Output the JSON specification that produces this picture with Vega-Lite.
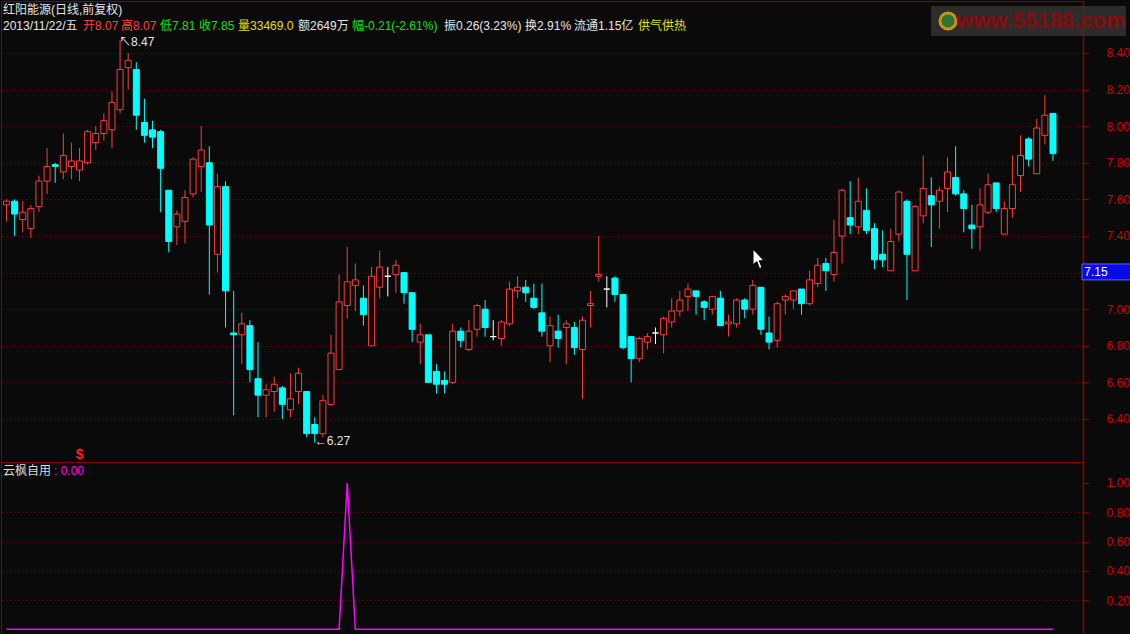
{
  "$schema": "https://vega.github.io/schema/vega-lite/v6.json",
  "background": "#0a0a0a",
  "padding": 0,
  "config": {
    "view": {"stroke": "#8c0000", "strokeWidth": 1},
    "scale": {"continuousPadding": 0},
    "text": {"font": "Liberation Sans, Noto Sans CJK SC", "fontSize": 12}
  },
  "datasets": {
    "k": [
      {"i":1,"o":7.57,"h":7.60,"l":7.48,"c":7.59,"v":0},
      {"i":2,"o":7.59,"h":7.60,"l":7.40,"c":7.52,"v":0},
      {"i":3,"o":7.49,"h":7.59,"l":7.42,"c":7.53,"v":0},
      {"i":4,"o":7.44,"h":7.57,"l":7.39,"c":7.55,"v":0},
      {"i":5,"o":7.56,"h":7.73,"l":7.53,"c":7.70,"v":0},
      {"i":6,"o":7.70,"h":7.88,"l":7.63,"c":7.78,"v":0},
      {"i":7,"o":7.79,"h":7.80,"l":7.69,"c":7.78,"v":0},
      {"i":8,"o":7.75,"h":7.96,"l":7.71,"c":7.84,"v":0},
      {"i":9,"o":7.78,"h":7.91,"l":7.71,"c":7.81,"v":0},
      {"i":10,"o":7.76,"h":7.88,"l":7.70,"c":7.81,"v":0},
      {"i":11,"o":7.80,"h":7.98,"l":7.79,"c":7.97,"v":0},
      {"i":12,"o":7.91,"h":8.00,"l":7.87,"c":7.96,"v":0},
      {"i":13,"o":7.96,"h":8.07,"l":7.92,"c":8.03,"v":0},
      {"i":14,"o":7.98,"h":8.19,"l":7.88,"c":8.13,"v":0},
      {"i":15,"o":8.09,"h":8.47,"l":8.07,"c":8.31,"v":0},
      {"i":16,"o":8.32,"h":8.40,"l":8.20,"c":8.36,"v":0},
      {"i":17,"o":8.31,"h":8.35,"l":7.98,"c":8.06,"v":0},
      {"i":18,"o":8.02,"h":8.15,"l":7.91,"c":7.95,"v":0},
      {"i":19,"o":7.98,"h":8.03,"l":7.88,"c":7.94,"v":0},
      {"i":20,"o":7.97,"h":7.98,"l":7.53,"c":7.77,"v":0},
      {"i":21,"o":7.65,"h":7.65,"l":7.31,"c":7.37,"v":0},
      {"i":22,"o":7.45,"h":7.54,"l":7.35,"c":7.52,"v":0},
      {"i":23,"o":7.48,"h":7.65,"l":7.36,"c":7.61,"v":0},
      {"i":24,"o":7.63,"h":7.83,"l":7.61,"c":7.82,"v":0},
      {"i":25,"o":7.78,"h":8.00,"l":7.64,"c":7.87,"v":0},
      {"i":26,"o":7.80,"h":7.89,"l":7.08,"c":7.46,"v":0},
      {"i":27,"o":7.30,"h":7.74,"l":7.20,"c":7.67,"v":0},
      {"i":28,"o":7.67,"h":7.70,"l":6.90,"c":7.10,"v":0},
      {"i":29,"o":6.87,"h":7.10,"l":6.42,"c":6.86,"v":0},
      {"i":30,"o":6.86,"h":6.98,"l":6.70,"c":6.92,"v":0},
      {"i":31,"o":6.91,"h":6.94,"l":6.60,"c":6.67,"v":0},
      {"i":32,"o":6.62,"h":6.82,"l":6.41,"c":6.53,"v":0},
      {"i":33,"o":6.53,"h":6.59,"l":6.41,"c":6.56,"v":0},
      {"i":34,"o":6.55,"h":6.63,"l":6.44,"c":6.59,"v":0},
      {"i":35,"o":6.57,"h":6.58,"l":6.40,"c":6.48,"v":0},
      {"i":36,"o":6.45,"h":6.65,"l":6.41,"c":6.51,"v":0},
      {"i":37,"o":6.55,"h":6.68,"l":6.48,"c":6.65,"v":0},
      {"i":38,"o":6.55,"h":6.55,"l":6.30,"c":6.32,"v":0},
      {"i":39,"o":6.37,"h":6.41,"l":6.27,"c":6.32,"v":0},
      {"i":40,"o":6.32,"h":6.53,"l":6.30,"c":6.50,"v":0},
      {"i":41,"o":6.48,"h":6.86,"l":6.47,"c":6.76,"v":0},
      {"i":42,"o":6.67,"h":7.19,"l":6.67,"c":7.04,"v":0},
      {"i":43,"o":7.02,"h":7.34,"l":6.95,"c":7.15,"v":1},
      {"i":44,"o":7.13,"h":7.25,"l":6.99,"c":7.16,"v":0},
      {"i":45,"o":7.06,"h":7.13,"l":6.91,"c":6.97,"v":0},
      {"i":46,"o":6.80,"h":7.23,"l":6.80,"c":7.18,"v":0},
      {"i":47,"o":7.12,"h":7.32,"l":7.06,"c":7.23,"v":0},
      {"i":48,"o":7.18,"h":7.23,"l":7.07,"c":7.18,"v":0},
      {"i":49,"o":7.19,"h":7.27,"l":7.09,"c":7.24,"v":0},
      {"i":50,"o":7.20,"h":7.20,"l":7.03,"c":7.09,"v":0},
      {"i":51,"o":7.09,"h":7.09,"l":6.82,"c":6.89,"v":0},
      {"i":52,"o":6.82,"h":6.92,"l":6.70,"c":6.86,"v":0},
      {"i":53,"o":6.86,"h":6.86,"l":6.60,"c":6.60,"v":0},
      {"i":54,"o":6.66,"h":6.70,"l":6.54,"c":6.59,"v":0},
      {"i":55,"o":6.61,"h":6.66,"l":6.54,"c":6.59,"v":0},
      {"i":56,"o":6.60,"h":6.92,"l":6.59,"c":6.88,"v":0},
      {"i":57,"o":6.88,"h":6.90,"l":6.79,"c":6.83,"v":0},
      {"i":58,"o":6.78,"h":6.94,"l":6.77,"c":6.88,"v":0},
      {"i":59,"o":6.89,"h":7.03,"l":6.85,"c":7.02,"v":0},
      {"i":60,"o":7.00,"h":7.05,"l":6.85,"c":6.90,"v":0},
      {"i":61,"o":6.85,"h":6.94,"l":6.83,"c":6.85,"v":0},
      {"i":62,"o":6.84,"h":6.94,"l":6.80,"c":6.93,"v":0},
      {"i":63,"o":6.92,"h":7.15,"l":6.91,"c":7.11,"v":0},
      {"i":64,"o":7.10,"h":7.18,"l":7.06,"c":7.12,"v":0},
      {"i":65,"o":7.12,"h":7.16,"l":7.04,"c":7.09,"v":0},
      {"i":66,"o":7.06,"h":7.14,"l":7.00,"c":7.01,"v":0},
      {"i":67,"o":6.98,"h":7.14,"l":6.85,"c":6.88,"v":0},
      {"i":68,"o":6.80,"h":6.96,"l":6.71,"c":6.91,"v":0},
      {"i":69,"o":6.88,"h":6.97,"l":6.79,"c":6.84,"v":0},
      {"i":70,"o":6.90,"h":6.94,"l":6.70,"c":6.92,"v":0},
      {"i":71,"o":6.90,"h":6.93,"l":6.75,"c":6.79,"v":0},
      {"i":72,"o":6.78,"h":6.96,"l":6.51,"c":6.94,"v":0},
      {"i":73,"o":7.02,"h":7.10,"l":6.90,"c":7.03,"v":0},
      {"i":74,"o":7.18,"h":7.40,"l":7.15,"c":7.19,"v":0},
      {"i":75,"o":7.11,"h":7.18,"l":7.01,"c":7.11,"v":0},
      {"i":76,"o":7.17,"h":7.18,"l":7.04,"c":7.08,"v":0},
      {"i":77,"o":7.08,"h":7.08,"l":6.78,"c":6.79,"v":0},
      {"i":78,"o":6.85,"h":6.85,"l":6.60,"c":6.73,"v":0},
      {"i":79,"o":6.73,"h":6.85,"l":6.71,"c":6.84,"v":0},
      {"i":80,"o":6.82,"h":6.87,"l":6.78,"c":6.85,"v":0},
      {"i":81,"o":6.87,"h":6.90,"l":6.81,"c":6.87,"v":0},
      {"i":82,"o":6.86,"h":6.96,"l":6.76,"c":6.95,"v":0},
      {"i":83,"o":6.93,"h":7.06,"l":6.90,"c":6.99,"v":0},
      {"i":84,"o":6.99,"h":7.10,"l":6.96,"c":7.05,"v":0},
      {"i":85,"o":7.07,"h":7.14,"l":6.99,"c":7.11,"v":0},
      {"i":86,"o":7.10,"h":7.10,"l":6.97,"c":7.07,"v":0},
      {"i":87,"o":7.04,"h":7.05,"l":6.94,"c":7.01,"v":0},
      {"i":88,"o":7.00,"h":7.07,"l":6.97,"c":7.07,"v":0},
      {"i":89,"o":7.06,"h":7.10,"l":6.91,"c":6.91,"v":0},
      {"i":90,"o":6.92,"h":6.97,"l":6.85,"c":6.93,"v":0},
      {"i":91,"o":6.92,"h":7.06,"l":6.90,"c":7.05,"v":0},
      {"i":92,"o":7.05,"h":7.06,"l":6.95,"c":7.00,"v":0},
      {"i":93,"o":7.00,"h":7.16,"l":6.97,"c":7.13,"v":0},
      {"i":94,"o":7.12,"h":7.12,"l":6.86,"c":6.89,"v":0},
      {"i":95,"o":6.87,"h":6.96,"l":6.78,"c":6.82,"v":0},
      {"i":96,"o":6.83,"h":7.04,"l":6.79,"c":7.03,"v":0},
      {"i":97,"o":7.05,"h":7.08,"l":6.97,"c":7.07,"v":0},
      {"i":98,"o":7.05,"h":7.10,"l":7.00,"c":7.10,"v":0},
      {"i":99,"o":7.11,"h":7.11,"l":6.97,"c":7.03,"v":0},
      {"i":100,"o":7.03,"h":7.21,"l":7.02,"c":7.16,"v":0},
      {"i":101,"o":7.14,"h":7.28,"l":7.12,"c":7.24,"v":0},
      {"i":102,"o":7.25,"h":7.28,"l":7.10,"c":7.21,"v":0},
      {"i":103,"o":7.19,"h":7.49,"l":7.15,"c":7.31,"v":0},
      {"i":104,"o":7.40,"h":7.66,"l":7.25,"c":7.65,"v":0},
      {"i":105,"o":7.50,"h":7.70,"l":7.41,"c":7.46,"v":0},
      {"i":106,"o":7.45,"h":7.72,"l":7.41,"c":7.59,"v":0},
      {"i":107,"o":7.54,"h":7.66,"l":7.41,"c":7.43,"v":0},
      {"i":108,"o":7.44,"h":7.47,"l":7.22,"c":7.27,"v":0},
      {"i":109,"o":7.30,"h":7.43,"l":7.23,"c":7.27,"v":0},
      {"i":110,"o":7.21,"h":7.44,"l":7.21,"c":7.37,"v":0},
      {"i":111,"o":7.41,"h":7.65,"l":7.37,"c":7.64,"v":0},
      {"i":112,"o":7.59,"h":7.60,"l":7.05,"c":7.30,"v":0},
      {"i":113,"o":7.21,"h":7.57,"l":7.21,"c":7.56,"v":0},
      {"i":114,"o":7.51,"h":7.84,"l":7.47,"c":7.66,"v":0},
      {"i":115,"o":7.62,"h":7.72,"l":7.34,"c":7.57,"v":0},
      {"i":116,"o":7.59,"h":7.67,"l":7.44,"c":7.65,"v":0},
      {"i":117,"o":7.66,"h":7.83,"l":7.53,"c":7.75,"v":0},
      {"i":118,"o":7.72,"h":7.89,"l":7.62,"c":7.63,"v":0},
      {"i":119,"o":7.63,"h":7.65,"l":7.42,"c":7.55,"v":0},
      {"i":120,"o":7.46,"h":7.57,"l":7.33,"c":7.44,"v":0},
      {"i":121,"o":7.45,"h":7.66,"l":7.32,"c":7.57,"v":0},
      {"i":122,"o":7.53,"h":7.74,"l":7.52,"c":7.68,"v":0},
      {"i":123,"o":7.69,"h":7.69,"l":7.53,"c":7.55,"v":0},
      {"i":124,"o":7.41,"h":7.59,"l":7.41,"c":7.55,"v":0},
      {"i":125,"o":7.55,"h":7.84,"l":7.50,"c":7.68,"v":0},
      {"i":126,"o":7.73,"h":7.95,"l":7.64,"c":7.84,"v":0},
      {"i":127,"o":7.93,"h":7.94,"l":7.78,"c":7.82,"v":0},
      {"i":128,"o":7.74,"h":8.04,"l":7.74,"c":7.99,"v":0},
      {"i":129,"o":7.95,"h":8.17,"l":7.90,"c":8.06,"v":0},
      {"i":130,"o":8.07,"h":8.07,"l":7.81,"c":7.85,"v":0}
    ],
    "signals": [{"i": 10, "sig": "S"}]
  },
  "bounds": "flush",
  "spacing": 0,
  "vconcat": [
    {
      "width": 1082,
      "height": 461,
      "data": {"name": "k"},
      "layer": [
        {
          "mark": {"type": "rule", "strokeWidth": 1},
          "encoding": {
            "x": {"field": "i", "type": "quantitative", "scale": {"domain": [0.32, 133.7], "padding": 0, "nice": false}, "axis": null, "title": null},
            "y": {"field": "l", "type": "quantitative", "scale": {"domain": [6.165, 8.684], "zero": false, "nice": false}, "title": null,
              "axis": {
                "orient": "right",
                "values": [6.4, 6.6, 6.8, 7.0, 7.2, 7.4, 7.6, 7.8, 8.0, 8.2, 8.4],
                "format": ".2f",
                "labelExpr": "abs(datum.value - 7.2) < 0.001 ? '' : datum.label",
                "grid": true, "gridColor": "#990000", "gridDash": [1, 3], "gridWidth": 1,
                "domainColor": "#8c0000", "domainWidth": 1.5,
                "tickColor": "#8c0000", "tickSize": 6,
                "labelColor": "#d00000", "labelFont": "Liberation Sans", "labelFontSize": 12,
                "labelAlign": "left", "labelPadding": 17, "title": null
              }
            },
            "y2": {"field": "h"},
            "stroke": {
              "condition": [
                {"test": "datum.c > datum.o", "value": "#ff3c3c"},
                {"test": "datum.c < datum.o", "value": "#00ffff"}
              ],
              "value": "#ffffff"
            }
          }
        },
        {
          "mark": {"type": "bar", "width": 6, "strokeWidth": 1},
          "encoding": {
            "x": {"field": "i", "type": "quantitative", "scale": {"domain": [0.32, 133.7], "padding": 0, "nice": false}, "axis": null, "title": null},
            "y": {"field": "o", "type": "quantitative", "scale": {"domain": [6.165, 8.684], "zero": false, "nice": false}, "title": null},
            "y2": {"field": "c"},
            "fill": {
              "condition": [
                {"test": "datum.c > datum.o", "value": "#0a0a0a"},
                {"test": "datum.c < datum.o", "value": "#00ffff"}
              ],
              "value": "#ffffff"
            },
            "stroke": {
              "condition": [
                {"test": "datum.c > datum.o", "value": "#ff3c3c"},
                {"test": "datum.c < datum.o", "value": "#00ffff"}
              ],
              "value": "#ffffff"
            }
          }
        },
        {
          "transform": [
            {"joinaggregate": [{"op": "max", "field": "h", "as": "hmax"}]},
            {"filter": "datum.h === datum.hmax"},
            {"calculate": "'↖' + format(datum.h, '.2f')", "as": "lab"}
          ],
          "mark": {"type": "text", "align": "left", "baseline": "top", "dy": -3, "dx": -1, "color": "#e6e6e6", "fontSize": 12},
          "encoding": {
            "x": {"field": "i", "type": "quantitative", "scale": {"domain": [0.32, 133.7], "padding": 0, "nice": false}, "axis": null, "title": null},
            "y": {"field": "h", "type": "quantitative", "scale": {"domain": [6.165, 8.684], "zero": false, "nice": false}, "title": null},
            "text": {"field": "lab"}
          }
        },
        {
          "transform": [
            {"joinaggregate": [{"op": "min", "field": "l", "as": "lmin"}]},
            {"filter": "datum.l === datum.lmin"},
            {"calculate": "'←' + format(datum.l, '.2f')", "as": "lab"}
          ],
          "mark": {"type": "text", "align": "left", "baseline": "middle", "dy": -2, "color": "#e6e6e6", "fontSize": 12},
          "encoding": {
            "x": {"field": "i", "type": "quantitative", "scale": {"domain": [0.32, 133.7], "padding": 0, "nice": false}, "axis": null, "title": null},
            "y": {"field": "l", "type": "quantitative", "scale": {"domain": [6.165, 8.684], "zero": false, "nice": false}, "title": null},
            "text": {"field": "lab"}
          }
        },
        {
          "data": {"name": "signals"},
          "mark": {"type": "text", "align": "center", "baseline": "middle", "color": "#ff2020", "fontSize": 14, "fontWeight": "bold"},
          "encoding": {
            "x": {"field": "i", "type": "quantitative", "scale": {"domain": [0.32, 133.7], "padding": 0, "nice": false}, "axis": null, "title": null},
            "y": {"datum": 6.203, "type": "quantitative", "scale": {"domain": [6.165, 8.684], "zero": false, "nice": false}, "title": null},
            "text": {"value": "$"}
          }
        },
        {
          "data": {"values": [{}]},
          "mark": {"type": "rect", "color": "#333333", "opacity": 0.85},
          "encoding": {
            "x": {"datum": 114.97, "type": "quantitative", "scale": {"domain": [0.32, 133.7], "padding": 0, "nice": false}, "axis": null, "title": null},
            "x2": {"datum": 139.0},
            "y": {"datum": 8.657, "type": "quantitative", "scale": {"domain": [6.165, 8.684], "zero": false, "nice": false}, "title": null},
            "y2": {"datum": 8.493}
          }
        },
        {
          "data": {"values": [{}]},
          "mark": {"type": "point", "shape": "circle", "size": 260, "filled": true, "fill": "#2e7d32", "stroke": "#d4a017", "strokeWidth": 3, "opacity": 0.9},
          "encoding": {
            "x": {"datum": 117.06, "type": "quantitative", "scale": {"domain": [0.32, 133.7], "padding": 0, "nice": false}, "axis": null, "title": null},
            "y": {"datum": 8.575, "type": "quantitative", "scale": {"domain": [6.165, 8.684], "zero": false, "nice": false}, "title": null}
          }
        },
        {
          "data": {"values": [{}]},
          "mark": {"type": "text", "align": "left", "baseline": "middle", "color": "#8b0a0a", "fontSize": 22, "fontWeight": "bold", "font": "Liberation Sans"},
          "encoding": {
            "x": {"datum": 118.05, "type": "quantitative", "scale": {"domain": [0.32, 133.7], "padding": 0, "nice": false}, "axis": null, "title": null},
            "y": {"datum": 8.575, "type": "quantitative", "scale": {"domain": [6.165, 8.684], "zero": false, "nice": false}, "title": null},
            "text": {"value": "www.55188.com"}
          }
        },
        {
          "data": {"values": [{}]},
          "mark": {"type": "point", "shape": "M-0.6,-1L-0.6,0.6L-0.22,0.25L0.05,0.95L0.3,0.85L0.03,0.17L0.5,0.17Z", "size": 400, "filled": true, "fill": "#ffffff", "stroke": "#000000", "strokeWidth": 1, "opacity": 1},
          "encoding": {
            "x": {"datum": 93.76, "type": "quantitative", "scale": {"domain": [0.32, 133.7], "padding": 0, "nice": false}, "axis": null, "title": null},
            "y": {"datum": 7.274, "type": "quantitative", "scale": {"domain": [6.165, 8.684], "zero": false, "nice": false}, "title": null}
          }
        },
        {
          "data": {"values": [{}]},
          "mark": {"type": "rect", "fill": "#0a0ae6", "stroke": "#6060ff", "strokeWidth": 1},
          "encoding": {
            "x": {"datum": 133.58, "type": "quantitative", "scale": {"domain": [0.32, 133.7], "padding": 0, "nice": false}, "axis": null, "title": null},
            "x2": {"datum": 139.6},
            "y": {"datum": 7.247, "type": "quantitative", "scale": {"domain": [6.165, 8.684], "zero": false, "nice": false}, "title": null},
            "y2": {"datum": 7.16}
          }
        },
        {
          "data": {"values": [{}]},
          "mark": {"type": "text", "align": "left", "baseline": "middle", "color": "#ffffff", "fontSize": 12},
          "encoding": {
            "x": {"datum": 133.85, "type": "quantitative", "scale": {"domain": [0.32, 133.7], "padding": 0, "nice": false}, "axis": null, "title": null},
            "y": {"datum": 7.203, "type": "quantitative", "scale": {"domain": [6.165, 8.684], "zero": false, "nice": false}, "title": null},
            "text": {"value": "7.15"}
          }
        },
        {
          "data": {"values": [{}]},
          "mark": {"type": "text", "align": "left", "baseline": "middle", "color": "#e6e6e6", "fontSize": 12},
          "encoding": {
            "x": {"datum": 0.567, "type": "quantitative", "scale": {"domain": [0.32, 133.7], "padding": 0, "nice": false}, "axis": null, "title": null},
            "y": {"datum": 8.635, "type": "quantitative", "scale": {"domain": [6.165, 8.684], "zero": false, "nice": false}, "title": null},
            "text": {"value": "红阳能源(日线,前复权)"}
          }
        },
        {
          "data": {"values": [{}]},
          "mark": {"type": "text", "align": "left", "baseline": "middle", "color": "#e6e6e6", "fontSize": 12},
          "encoding": {
            "x": {"datum": 0.567, "type": "quantitative", "scale": {"domain": [0.32, 133.7], "padding": 0, "nice": false}, "axis": null, "title": null},
            "y": {"datum": 8.5475, "type": "quantitative", "scale": {"domain": [6.165, 8.684], "zero": false, "nice": false}, "title": null},
            "text": {"value": "2013/11/22/五"}
          }
        },
        {
          "data": {"values": [{}]},
          "mark": {"type": "text", "align": "left", "baseline": "middle", "color": "#ff4040", "fontSize": 12},
          "encoding": {
            "x": {"datum": 10.43, "type": "quantitative", "scale": {"domain": [0.32, 133.7], "padding": 0, "nice": false}, "axis": null, "title": null},
            "y": {"datum": 8.5475, "type": "quantitative", "scale": {"domain": [6.165, 8.684], "zero": false, "nice": false}, "title": null},
            "text": {"value": "开8.07"}
          }
        },
        {
          "data": {"values": [{}]},
          "mark": {"type": "text", "align": "left", "baseline": "middle", "color": "#ff4040", "fontSize": 12},
          "encoding": {
            "x": {"datum": 15.11, "type": "quantitative", "scale": {"domain": [0.32, 133.7], "padding": 0, "nice": false}, "axis": null, "title": null},
            "y": {"datum": 8.5475, "type": "quantitative", "scale": {"domain": [6.165, 8.684], "zero": false, "nice": false}, "title": null},
            "text": {"value": "高8.07"}
          }
        },
        {
          "data": {"values": [{}]},
          "mark": {"type": "text", "align": "left", "baseline": "middle", "color": "#10e010", "fontSize": 12},
          "encoding": {
            "x": {"datum": 19.92, "type": "quantitative", "scale": {"domain": [0.32, 133.7], "padding": 0, "nice": false}, "axis": null, "title": null},
            "y": {"datum": 8.5475, "type": "quantitative", "scale": {"domain": [6.165, 8.684], "zero": false, "nice": false}, "title": null},
            "text": {"value": "低7.81"}
          }
        },
        {
          "data": {"values": [{}]},
          "mark": {"type": "text", "align": "left", "baseline": "middle", "color": "#10e010", "fontSize": 12},
          "encoding": {
            "x": {"datum": 24.73, "type": "quantitative", "scale": {"domain": [0.32, 133.7], "padding": 0, "nice": false}, "axis": null, "title": null},
            "y": {"datum": 8.5475, "type": "quantitative", "scale": {"domain": [6.165, 8.684], "zero": false, "nice": false}, "title": null},
            "text": {"value": "收7.85"}
          }
        },
        {
          "data": {"values": [{}]},
          "mark": {"type": "text", "align": "left", "baseline": "middle", "color": "#e0e000", "fontSize": 12},
          "encoding": {
            "x": {"datum": 29.54, "type": "quantitative", "scale": {"domain": [0.32, 133.7], "padding": 0, "nice": false}, "axis": null, "title": null},
            "y": {"datum": 8.5475, "type": "quantitative", "scale": {"domain": [6.165, 8.684], "zero": false, "nice": false}, "title": null},
            "text": {"value": "量33469.0"}
          }
        },
        {
          "data": {"values": [{}]},
          "mark": {"type": "text", "align": "left", "baseline": "middle", "color": "#e6e6e6", "fontSize": 12},
          "encoding": {
            "x": {"datum": 36.93, "type": "quantitative", "scale": {"domain": [0.32, 133.7], "padding": 0, "nice": false}, "axis": null, "title": null},
            "y": {"datum": 8.5475, "type": "quantitative", "scale": {"domain": [6.165, 8.684], "zero": false, "nice": false}, "title": null},
            "text": {"value": "额2649万"}
          }
        },
        {
          "data": {"values": [{}]},
          "mark": {"type": "text", "align": "left", "baseline": "middle", "color": "#10e010", "fontSize": 12},
          "encoding": {
            "x": {"datum": 43.59, "type": "quantitative", "scale": {"domain": [0.32, 133.7], "padding": 0, "nice": false}, "axis": null, "title": null},
            "y": {"datum": 8.5475, "type": "quantitative", "scale": {"domain": [6.165, 8.684], "zero": false, "nice": false}, "title": null},
            "text": {"value": "幅-0.21(-2.61%)"}
          }
        },
        {
          "data": {"values": [{}]},
          "mark": {"type": "text", "align": "left", "baseline": "middle", "color": "#e6e6e6", "fontSize": 12},
          "encoding": {
            "x": {"datum": 54.93, "type": "quantitative", "scale": {"domain": [0.32, 133.7], "padding": 0, "nice": false}, "axis": null, "title": null},
            "y": {"datum": 8.5475, "type": "quantitative", "scale": {"domain": [6.165, 8.684], "zero": false, "nice": false}, "title": null},
            "text": {"value": "振0.26(3.23%)"}
          }
        },
        {
          "data": {"values": [{}]},
          "mark": {"type": "text", "align": "left", "baseline": "middle", "color": "#e6e6e6", "fontSize": 12},
          "encoding": {
            "x": {"datum": 64.92, "type": "quantitative", "scale": {"domain": [0.32, 133.7], "padding": 0, "nice": false}, "axis": null, "title": null},
            "y": {"datum": 8.5475, "type": "quantitative", "scale": {"domain": [6.165, 8.684], "zero": false, "nice": false}, "title": null},
            "text": {"value": "换2.91%"}
          }
        },
        {
          "data": {"values": [{}]},
          "mark": {"type": "text", "align": "left", "baseline": "middle", "color": "#e6e6e6", "fontSize": 12},
          "encoding": {
            "x": {"datum": 70.95, "type": "quantitative", "scale": {"domain": [0.32, 133.7], "padding": 0, "nice": false}, "axis": null, "title": null},
            "y": {"datum": 8.5475, "type": "quantitative", "scale": {"domain": [6.165, 8.684], "zero": false, "nice": false}, "title": null},
            "text": {"value": "流通1.15亿"}
          }
        },
        {
          "data": {"values": [{}]},
          "mark": {"type": "text", "align": "left", "baseline": "middle", "color": "#e0e000", "fontSize": 12},
          "encoding": {
            "x": {"datum": 78.85, "type": "quantitative", "scale": {"domain": [0.32, 133.7], "padding": 0, "nice": false}, "axis": null, "title": null},
            "y": {"datum": 8.5475, "type": "quantitative", "scale": {"domain": [6.165, 8.684], "zero": false, "nice": false}, "title": null},
            "text": {"value": "供气供热"}
          }
        }
      ]
    },
    {
      "width": 1082,
      "height": 173,
      "data": {"name": "k"},
      "layer": [
        {
          "mark": {"type": "line", "color": "#ff00ff", "strokeWidth": 1.5, "interpolate": "linear"},
          "encoding": {
            "x": {"field": "i", "type": "quantitative", "scale": {"domain": [0.32, 133.7], "padding": 0, "nice": false}, "axis": null, "title": null},
            "y": {"field": "v", "type": "quantitative", "scale": {"domain": [-0.039, 1.1435], "zero": false, "nice": false}, "title": null,
              "axis": {
                "orient": "right",
                "values": [0.2, 0.4, 0.6, 0.8, 1.0],
                "format": ".2f",
                "grid": true, "gridColor": "#990000", "gridDash": [1, 3], "gridWidth": 1,
                "gridOpacity": {"condition": {"test": "datum.value > 0.9", "value": 0}, "value": 1},
                "domainColor": "#8c0000", "domainWidth": 1.5,
                "tickColor": "#8c0000", "tickSize": 6,
                "labelColor": "#d00000", "labelFont": "Liberation Sans", "labelFontSize": 12,
                "labelAlign": "left", "labelPadding": 17, "title": null
              }
            }
          }
        },
        {
          "data": {"values": [{}]},
          "mark": {"type": "text", "align": "left", "baseline": "middle", "color": "#dcdcdc", "fontSize": 12},
          "encoding": {
            "x": {"datum": 0.567, "type": "quantitative", "scale": {"domain": [0.32, 133.7], "padding": 0, "nice": false}, "axis": null, "title": null},
            "y": {"datum": 1.082, "type": "quantitative", "scale": {"domain": [-0.039, 1.1435], "zero": false, "nice": false}, "title": null},
            "text": {"value": "云枫自用"}
          }
        },
        {
          "data": {"values": [{}]},
          "mark": {"type": "text", "align": "left", "baseline": "middle", "color": "#ff00ff", "fontSize": 12},
          "encoding": {
            "x": {"datum": 6.85, "type": "quantitative", "scale": {"domain": [0.32, 133.7], "padding": 0, "nice": false}, "axis": null, "title": null},
            "y": {"datum": 1.082, "type": "quantitative", "scale": {"domain": [-0.039, 1.1435], "zero": false, "nice": false}, "title": null},
            "text": {"value": ": 0.00"}
          }
        }
      ]
    }
  ]
}
